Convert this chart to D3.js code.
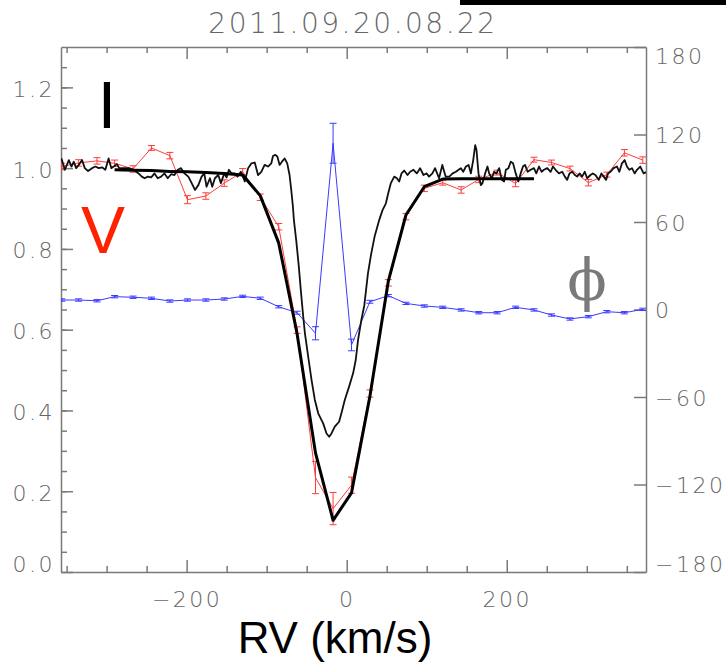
<!DOCTYPE html>
<html>
<head>
<meta charset="utf-8">
<script src="https://cdn.jsdelivr.net/npm/d3@7"></script>
<style>
  body { margin: 0; background: #fff; }
  svg { display: block; }
</style>
</head>
<body>
<div id="chart"></div>
<script>
// title and tick labels
var title = "2011.09.20.08.22";
var xMajor = [-200, 0, 200];
var xMinor = [-350, -300, -250, -150, -100, -50, 50, 100, 150, 250, 300, 350];
var yMajor = [0, 0.2, 0.4, 0.6, 0.8, 1.0, 1.2];
var phiTicks = [-180, -120, -60, 0, 60, 120, 180];

// Stokes V (scaled) and phase, on the coarse RV grid
var rvV = [-356, -335, -312, -290, -267, -244, -221, -199, -176, -153, -130, -108, -85, -62, -39, -17,
           6, 29, 52, 74, 97, 120, 143, 165, 188, 211, 234, 256, 279, 302, 325, 347, 370];
var vI = [1.004, 1.013, 1.018, 1.012, 0.998, 1.050, 1.031, 0.922, 0.931, 0.963, 0.991, 0.928, 0.855, 0.599, 0.234, 0.157,
          0.215, 0.442, 0.716, 0.880, 0.950, 0.964, 0.946, 0.972, 0.989, 0.962, 1.021, 1.014, 0.999, 0.964, 0.984, 1.038, 1.020];
var vErr = [0.008, 0.008, 0.008, 0.008, 0.008, 0.006, 0.008, 0.010, 0.008, 0.008, 0.008, 0.008, 0.008, 0.008, 0.040, 0.040,
            0.020, 0.009, 0.008, 0.008, 0.008, 0.006, 0.008, 0.008, 0.006, 0.008, 0.006, 0.006, 0.006, 0.008, 0.006, 0.008, 0.008];
var phi = [6.5, 6.5, 6.0, 8.8, 8.4, 7.7, 5.8, 6.5, 6.5, 7.2, 9.0, 7.7, 1.9, -2.2, -16.3, 114,
           -24.3, 5.3, 9.5, 4.2, 2.4, 1.5, -0.3, -2.2, -2.2, 1.5, -0.3, -3.8, -6.5, -4.9, -1.5, -2.2, 0.1];
var phiErr = [0.8, 0.8, 0.8, 0.8, 0.8, 0.8, 0.8, 0.8, 0.8, 0.8, 0.8, 0.8, 0.8, 1.0, 4.5, 13.7,
              4.0, 1.0, 0.8, 0.8, 0.8, 0.8, 0.8, 0.8, 0.8, 0.8, 0.8, 0.8, 0.8, 0.8, 0.8, 0.8, 0.8];

// model intensity profile
var rvModel = [-290, -267, -244, -221, -199, -176, -153, -130, -108, -85, -62, -39, -17, 6, 29, 52, 74, 97, 120, 143, 165, 188, 211, 234];
var iModel = [0.996, 0.995, 0.994, 0.992, 0.991, 0.989, 0.987, 0.983, 0.932, 0.815, 0.590, 0.295, 0.128, 0.196, 0.435, 0.720,
              0.884, 0.954, 0.973, 0.974, 0.974, 0.974, 0.974, 0.974];

// observed intensity profile
var rvObs = [-356.4, -352.2, -347.2, -343.9, -341.0, -338.1, -334.8, -330.7, -327.3, -323.2, -318.2, -314.0, -309.9, -305.8,
  -301.6, -297.5, -294.1, -291.2, -287.1, -284.2, -278.8, -272.6, -266.3, -260.1, -256.0, -252.6, -248.5, -244.3, -240.2,
  -236.1, -231.9, -227.7, -223.6, -219.4, -215.3, -211.1, -207.0, -202.8, -197.9, -193.7, -189.6, -185.4, -181.3, -178.0,
  -175.1, -170.9, -168.0, -164.7, -160.5, -157.2, -153.0, -150.1, -147.2, -143.9, -139.8, -136.4, -132.3, -129.4, -127.3,
  -123.2, -119.0, -114.9, -110.8, -106.7, -102.5, -98.4, -94.2, -92.1, -89.2, -86.7, -83.8, -80.9, -77.6, -74.3, -71.4,
  -69.3, -67.2, -66.0, -63.0, -60.0, -57.0, -54.3, -52.2, -48.1, -43.9, -39.8, -35.6, -29.4, -25.2, -21.9, -19.0, -14.9,
  -9.5, -6.6, -2.4, 3.0, 8.0, 11.3, 14.2, 18.3, 22.0, 26.6, 30.7, 34.8, 40.7, 44.8, 49.0, 51.9, 55.2, 59.4, 62.7, 65.6,
  68.5, 71.8, 76.0, 79.3, 83.4, 87.6, 91.7, 95.9, 100.0, 102.9, 107.1, 110.4, 115.4, 119.5, 123.7, 128.2, 132.4, 136.5,
  139.8, 142.7, 145.6, 149.0, 152.3, 155.2, 158.1, 160.6, 162.2, 164.7, 167.6, 169.7, 173.0, 175.9, 178.0, 181.3, 184.2,
  187.1, 190.5, 193.8, 196.7, 198.8, 202.1, 205.0, 207.9, 211.2, 214.5, 217.4, 220.3, 222.8, 226.1, 229.9, 234.0, 236.9,
  240.3, 243.6, 246.5, 250.6, 254.8, 257.7, 261.0, 265.2, 269.3, 272.6, 275.5, 278.4, 281.8, 285.1, 288.0, 290.9, 294.2,
  297.5, 300.4, 304.6, 307.5, 310.8, 315.0, 318.3, 321.2, 324.1, 326.6, 329.5, 333.6, 337.8, 340.7, 344.0, 347.3, 350.2,
  353.1, 356.5, 359.8, 362.7, 366.8, 371.0, 375.1];
var iObs = [1.024, 0.996, 1.020, 1.004, 1.016, 1.000, 1.008, 1.020, 1.000, 0.993, 1.000, 1.004, 1.000, 1.002,
  0.996, 1.024, 1.000, 1.004, 1.010, 1.000, 1.000, 1.000, 0.996, 0.987, 0.979, 0.975, 0.979, 0.977, 0.987,
  0.975, 0.979, 0.987, 0.975, 0.985, 0.983, 0.996, 1.000, 0.987, 0.979, 0.963, 0.946, 0.958, 0.979, 0.987,
  0.954, 0.975, 0.954, 0.975, 0.983, 0.963, 0.987, 0.977, 0.996, 0.987, 0.987, 0.979, 0.991, 0.977, 0.967,
  1.000, 1.012, 1.014, 0.983, 0.991, 1.008, 1.004, 1.012, 1.030, 1.033, 1.029, 1.008, 1.016, 1.024, 1.012, 0.983,
  0.946, 0.905, 0.872, 0.820, 0.760, 0.690, 0.632, 0.591, 0.533, 0.475, 0.426, 0.393, 0.368, 0.343, 0.335, 0.343, 0.360,
  0.372, 0.393, 0.426, 0.459, 0.492, 0.525, 0.575, 0.624, 0.660, 0.740, 0.789, 0.830, 0.872, 0.896, 0.913, 0.938, 0.963, 0.979, 0.975, 0.967,
  0.987, 0.994, 0.983, 0.991, 0.996, 0.987, 1.000, 0.983, 0.987, 0.979, 0.987, 1.000, 0.975, 1.008, 0.979, 0.979, 0.987, 0.991,
  0.996, 1.000, 0.991, 1.004, 1.008, 0.987, 1.020, 1.057, 1.045, 0.987, 0.958, 0.963, 0.987, 1.004, 0.987, 0.975, 0.991,
  0.987, 1.000, 0.971, 0.967, 0.996, 1.000, 1.016, 1.012, 0.987, 0.967, 0.987, 1.004, 1.008, 0.991, 0.996, 1.000, 0.987,
  1.004, 0.991, 0.996, 1.000, 0.991, 1.004, 0.996, 0.987, 0.991, 0.979, 0.971, 0.987, 0.991, 0.983, 0.979, 0.987, 0.979,
  0.991, 0.975, 0.983, 0.987, 0.983, 0.971, 0.987, 0.979, 0.971, 0.987, 0.991, 1.000, 1.004, 0.991, 1.012, 1.020, 1.004,
  0.996, 1.000, 0.987, 0.996, 1.004, 0.987, 0.991];

var width = 726, height = 662;
var plot = {left: 61, right: 646, top: 47, bottom: 572};
var grey = "#7a7a7a";
var labelFont = "'DejaVu Sans', sans-serif";

var svg = d3.select("#chart").append("svg")
    .attr("width", width)
    .attr("height", height);

// scales
var x = d3.scaleLinear().domain([-357, 374]).range([plot.left, plot.right]);
var yI = d3.scaleLinear().domain([0, 1.3]).range([plot.bottom, plot.top]);
var yP = d3.scaleLinear().domain([-180, 180]).range([plot.bottom, plot.top]);

// black bar and title
svg.append("rect")
    .attr("x", 460).attr("y", 0).attr("width", 266).attr("height", 5)
    .attr("fill", "#000");
svg.append("text")
    .attr("x", 353).attr("y", 33)
    .attr("text-anchor", "middle")
    .style("font-family", labelFont)
    .style("font-weight", 200)
    .style("font-size", "28px")
    .style("letter-spacing", "2.5px")
    .attr("fill", "#666")
    .text(title);

function styleAxis(g) {
    g.selectAll("path, line").attr("stroke", grey).attr("stroke-width", 1.5);
    g.selectAll("text")
        .style("font-family", labelFont)
        .style("font-weight", 200)
        .style("font-size", "22px")
        .style("letter-spacing", "2.5px")
        .attr("fill", "#666");
}

// bottom axis
var gb = svg.append("g").attr("transform", "translate(0," + plot.bottom + ")")
    .call(d3.axisBottom(x).tickValues(xMajor).tickSizeInner(-12).tickSizeOuter(0).tickPadding(19));
gb.append("g").call(d3.axisBottom(x).tickValues(xMinor).tickSizeInner(-6).tickSizeOuter(0).tickFormat(""))
    .select(".domain").remove();
styleAxis(gb);

// top axis
var gt = svg.append("g").attr("transform", "translate(0," + plot.top + ")")
    .call(d3.axisTop(x).tickValues(xMajor).tickSizeInner(-12).tickSizeOuter(0).tickFormat(""));
gt.append("g").call(d3.axisTop(x).tickValues(xMinor).tickSizeInner(-6).tickSizeOuter(0).tickFormat(""))
    .select(".domain").remove();
styleAxis(gt);

// left axis (intensity)
var gl = svg.append("g").attr("transform", "translate(" + plot.left + ",0)")
    .call(d3.axisLeft(yI).tickValues(yMajor).tickSizeInner(-12).tickSizeOuter(0).tickPadding(6)
        .tickFormat(d3.format(".1f")));
gl.append("g").call(d3.axisLeft(yI).tickValues(d3.range(0.05, 1.3, 0.05)).tickSizeInner(-6).tickSizeOuter(0).tickFormat(""))
    .select(".domain").remove();
styleAxis(gl);
gl.selectAll(".tick text").attr("y", function(d) { return d === 0 ? -8 : 2; });

// right axis (phase)
var gr = svg.append("g").attr("transform", "translate(" + plot.right + ",0)")
    .call(d3.axisRight(yP).tickValues(phiTicks).tickSizeInner(-12).tickSizeOuter(0).tickPadding(9));
styleAxis(gr);
gr.selectAll(".tick text").attr("y", function(d) { return d === 180 ? 9 : d === -180 ? -8 : 1; });

// x title
svg.append("text")
    .attr("x", 335).attr("y", 653)
    .attr("text-anchor", "middle")
    .style("font-family", "'Liberation Sans', Arial, sans-serif")
    .style("font-size", "44px")
    .attr("fill", "#000")
    .text("RV (km/s)");

// clip to the frame
svg.append("clipPath").attr("id", "frame").append("rect")
    .attr("x", plot.left).attr("y", plot.top)
    .attr("width", plot.right - plot.left).attr("height", plot.bottom - plot.top);
var data = svg.append("g").attr("clip-path", "url(#frame)");

function errorSeries(g, ys, vals, errs, color) {
    var pts = rvV.map(function(r, i) { return {r: r, v: vals[i], e: errs[i]}; });
    g.append("path").datum(pts)
        .attr("fill", "none").attr("stroke", color).attr("stroke-width", 1)
        .attr("d", d3.line().x(function(d) { return x(d.r); }).y(function(d) { return ys(d.v); }));
    var eb = g.append("g").attr("stroke", color).attr("stroke-width", 1);
    pts.forEach(function(d) {
        var cx = x(d.r), y0 = ys(d.v - d.e), y1 = ys(d.v + d.e);
        eb.append("line").attr("x1", cx).attr("x2", cx).attr("y1", y0).attr("y2", y1);
        eb.append("line").attr("x1", cx - 3.5).attr("x2", cx + 3.5).attr("y1", y0).attr("y2", y0);
        eb.append("line").attr("x1", cx - 3.5).attr("x2", cx + 3.5).attr("y1", y1).attr("y2", y1);
    });
}

// phase (blue) and V (red)
errorSeries(data, yP, phi, phiErr, "#3a3aff");
errorSeries(data, yI, vI, vErr, "#ff3b3b");

// observed profile
data.append("path")
    .datum(rvObs.map(function(r, i) { return [r, iObs[i]]; }))
    .attr("fill", "none").attr("stroke", "#111").attr("stroke-width", 1.8)
    .attr("stroke-linejoin", "round")
    .attr("d", d3.line().x(function(d) { return x(d[0]); }).y(function(d) { return yI(d[1]); }));

// model profile
data.append("path")
    .datum(rvModel.map(function(r, i) { return [r, iModel[i]]; }))
    .attr("fill", "none").attr("stroke", "#000").attr("stroke-width", 3)
    .attr("stroke-linejoin", "round")
    .attr("d", d3.line().x(function(d) { return x(d[0]); }).y(function(d) { return yI(d[1]); }));

// series labels
svg.append("text").attr("x", 107).attr("y", 128).attr("text-anchor", "middle")
    .style("font-family", "'Liberation Sans', Arial, sans-serif").style("font-size", "66px")
    .attr("fill", "#000").text("I");
svg.append("text").attr("x", 103).attr("y", 253).attr("text-anchor", "middle")
    .style("font-family", "'Liberation Sans', Arial, sans-serif").style("font-size", "66px")
    .attr("fill", "#ff2200").text("V");
svg.append("text").attr("x", 587).attr("y", 300).attr("text-anchor", "middle")
    .style("font-family", "'DejaVu Serif', serif").style("font-size", "58px")
    .attr("fill", grey).text("\u03d5");
</script>
</body>
</html>
